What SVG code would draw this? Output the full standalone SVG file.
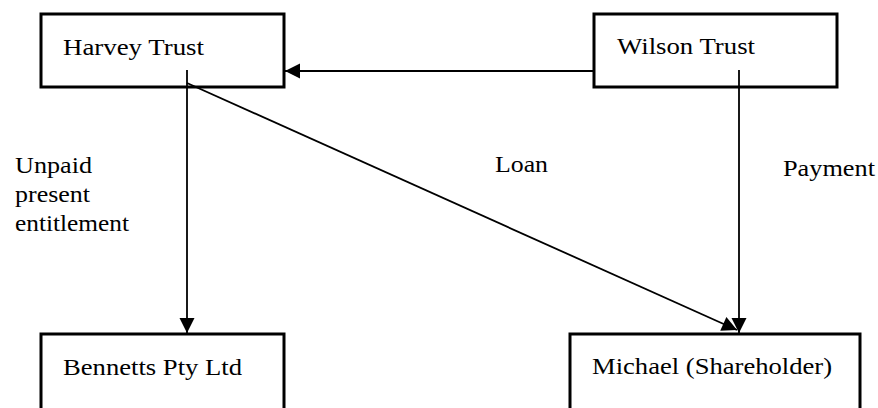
<svg xmlns="http://www.w3.org/2000/svg" width="878" height="408" viewBox="0 0 878 408">
<style>
.box{fill:#fff;stroke:#000;stroke-width:3}
.t{font-family:"Liberation Serif","Times New Roman",serif;font-size:24px;fill:#000}
.c{stroke:#000;stroke-width:1.8;fill:none}
</style>
<defs>
<marker id="ah" markerUnits="userSpaceOnUse" markerWidth="18" markerHeight="18" viewBox="0 0 18 18" refX="16" refY="9" orient="auto">
<path d="M1,1.5 L16,9 L1,16.5 Z" fill="#000"/>
</marker>
</defs>
<rect x="0" y="0" width="878" height="408" fill="#fff"/>
<g id="harvey"><rect class="box" x="41" y="14" width="243" height="73"/><text class="t" x="63" y="55" textLength="141" lengthAdjust="spacingAndGlyphs">Harvey Trust</text></g>
<g id="wilson"><rect class="box" x="594" y="14" width="243" height="73"/><text class="t" x="617" y="54" textLength="138" lengthAdjust="spacingAndGlyphs">Wilson Trust</text></g>
<g id="bennetts"><rect class="box" x="41" y="334" width="243" height="90"/><text class="t" x="63" y="375" textLength="179" lengthAdjust="spacingAndGlyphs">Bennetts Pty Ltd</text></g>
<g id="michael"><rect class="box" x="570" y="334" width="290" height="90"/><text class="t" x="592" y="374" textLength="240" lengthAdjust="spacingAndGlyphs">Michael (Shareholder)</text></g>
<g id="connectors">
<line class="c" x1="594" y1="71" x2="285" y2="71" marker-end="url(#ah)"/>
<line class="c" x1="187" y1="70" x2="187" y2="333" marker-end="url(#ah)"/>
<line class="c" x1="739" y1="70" x2="739" y2="333" marker-end="url(#ah)"/>
<line class="c" x1="187" y1="83" x2="737" y2="330" marker-end="url(#ah)"/>
</g>
<g id="labels">
<text class="t" x="15" y="173" textLength="77" lengthAdjust="spacingAndGlyphs">Unpaid</text>
<text class="t" x="15" y="202" textLength="75" lengthAdjust="spacingAndGlyphs">present</text>
<text class="t" x="15" y="231" textLength="114" lengthAdjust="spacingAndGlyphs">entitlement</text>
<text class="t" x="495" y="172" textLength="53" lengthAdjust="spacingAndGlyphs">Loan</text>
<text class="t" x="783" y="176" textLength="92" lengthAdjust="spacingAndGlyphs">Payment</text>
</g>
</svg>
